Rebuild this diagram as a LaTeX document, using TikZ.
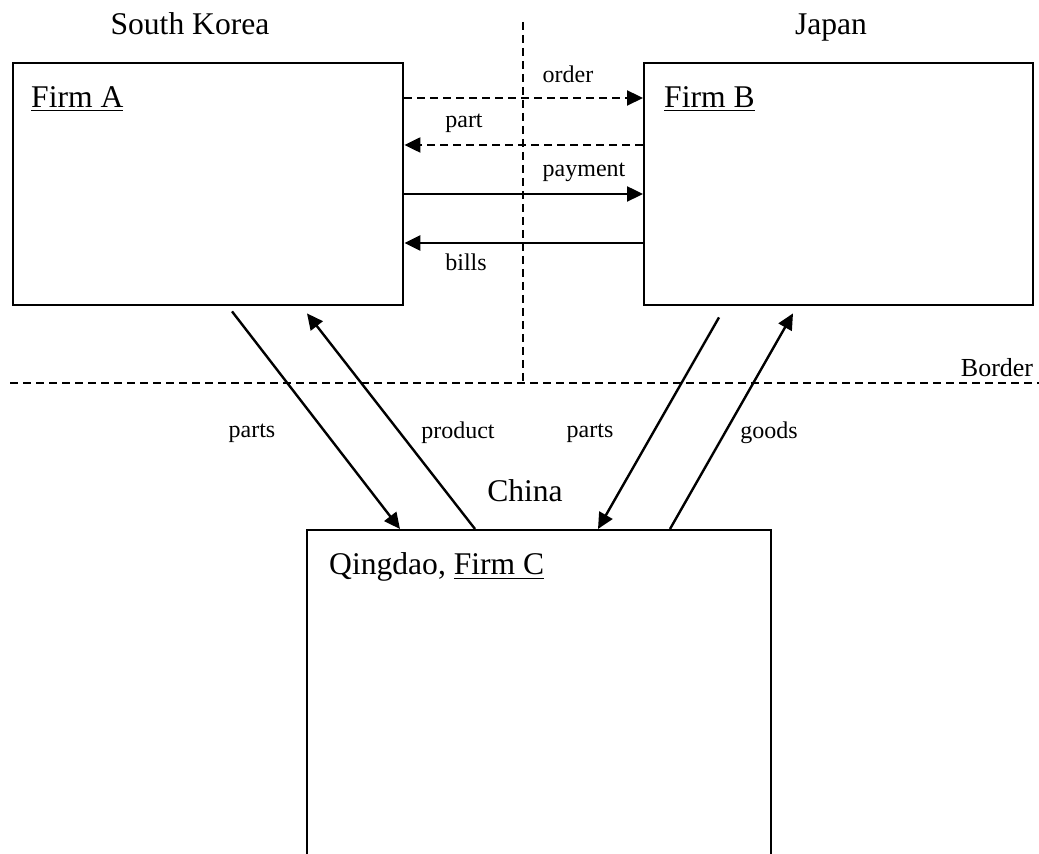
\documentclass[tikz,border=0pt]{standalone}
\usepackage{fontspec}
\setmainfont{Liberation Serif}
\usetikzlibrary{arrows.meta}
\usetikzlibrary{calc}

\begin{document}
\begin{tikzpicture}[x=0.5pt,y=-0.5pt,line width=1.2pt,
  firm/.style={draw,rectangle,inner sep=0pt,anchor=north west},
  big/.style={font=\fontsize{15.8}{18}\selectfont,inner sep=0pt},
  small/.style={font=\fontsize{12}{14}\selectfont,inner sep=0pt},
  flow/.style={-{Triangle[length=8pt,width=7.5pt]}},
  limit/.style={line width=1.1pt,dash pattern=on 4pt off 2.5pt}]
\useasboundingbox (0,0) rectangle (1039,854);
\clip (0,0) rectangle (1039,854);
% countries and firms
\node[big,anchor=base] (korea) at (190,35) {South Korea};
\node[big,anchor=base] (japan) at (831,35) {Japan};
\node[big,anchor=base] (china) at (525,502) {China};
\node[firm,minimum width=195pt,minimum height=121pt] (firmA) at (12,62) {};
\node[firm,minimum width=194.5pt,minimum height=121pt] (firmB) at (643,62) {};
\node[firm,minimum width=232pt,minimum height=180pt] (firmC) at (306,529) {};
\node[big,anchor=base west] (nameA) at (30,108) {\underline{Firm A}};
\node[big,anchor=base west] (nameB) at (663,108) {\underline{Firm B}};
\node[big,anchor=base west] (nameC) at (328,575) {Qingdao, \underline{Firm C}};
% borders
\coordinate (vtop) at (523,22);
\coordinate (vbot) at (523,383);
\coordinate (hleft) at (10,383);
\coordinate (hright) at (1039,383);
\draw[limit] (vtop) -- (vbot);
\draw[limit] (hleft) -- (hright);
\node[small,font=\fontsize{13}{15}\selectfont,anchor=base] (border) at (997,377) {Border};
% flows between A and B
\draw[flow,limit] ($(firmA.north east)+(0,36)$) -- ($(firmB.north west)+(0,36)$);
\draw[flow,limit] ($(firmB.north west)+(0,83)$) -- ($(firmA.north east)+(0,83)$);
\draw[flow] ($(firmA.north east)+(0,132)$) -- ($(firmB.north west)+(0,132)$);
\draw[flow] ($(firmB.north west)+(0,181)$) -- ($(firmA.north east)+(0,181)$);
\node[small] (order) at (568,74) {order};
\node[small] (part) at (464,123) {part};
\node[small] (payment) at (584,172) {payment};
\node[small] (bills) at (466,262) {bills};
% flows to and from China
\draw[flow] ($(firmA.south west)+(220,5)$) -- ($(firmC.north west)+(94,0)$);
\draw[flow] ($(firmC.north west)+(169,0)$) -- ($(firmA.south west)+(295,7)$);
\draw[flow] ($(firmB.south west)+(76,11)$) -- ($(firmC.north west)+(292,0)$);
\draw[flow] ($(firmC.north west)+(364,0)$) -- ($(firmB.south west)+(150,7)$);
\node[small] (partsA) at (252,433) {parts};
\node[small] (product) at (458,433) {product};
\node[small] (partsB) at (590,433) {parts};
\node[small] (goods) at (769,433) {goods};
\end{tikzpicture}
\end{document}
